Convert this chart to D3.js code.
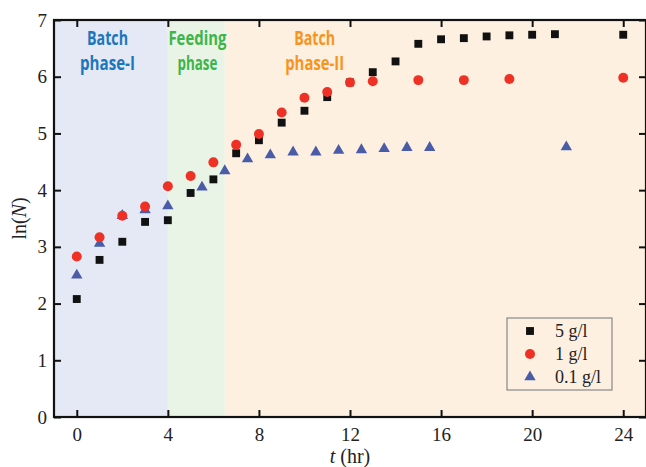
<!DOCTYPE html>
<html>
<head>
<meta charset="utf-8">
<script src="https://cdn.jsdelivr.net/npm/d3@7"></script>
<style>
  body { margin: 0; background: #fff; }
  svg { display: block; }
  .tick text { font-family: "Liberation Serif", "Times New Roman", serif; font-size: 19px; fill: #222; }
</style>
</head>
<body>
<div id="chart"></div>
<script>
// times (hr) and ln(N) for each glucose level
var tSquare = [0, 1, 2, 3, 4, 5, 6, 7, 8, 9, 10, 11, 12, 13, 14, 15, 16, 17, 18, 19, 20, 21, 24];
var lnSquare = [2.08, 2.77, 3.09, 3.44, 3.47, 3.95, 4.19, 4.65, 4.88, 5.19, 5.40, 5.64, 5.90, 6.08, 6.27, 6.58, 6.66, 6.68, 6.71, 6.73, 6.74, 6.75, 6.74];

var tCircle = [0, 1, 2, 3, 4, 5, 6, 7, 8, 9, 10, 11, 12, 13, 15, 17, 19, 24];
var lnCircle = [2.83, 3.17, 3.55, 3.71, 4.07, 4.25, 4.49, 4.80, 4.99, 5.37, 5.63, 5.73, 5.90, 5.92, 5.94, 5.94, 5.96, 5.98];

var tTri = [0, 1, 2, 3, 4, 5.5, 6.5, 7.5, 8.5, 9.5, 10.5, 11.5, 12.5, 13.5, 14.5, 15.5, 21.5];
var lnTri = [2.50, 3.06, 3.55, 3.65, 3.72, 4.05, 4.34, 4.55, 4.62, 4.67, 4.67, 4.70, 4.71, 4.73, 4.75, 4.75, 4.76];

var seriesNames = ["5 g/l", "1 g/l", "0.1 g/l"];

// phases: start, end, label lines
var phaseStart = [-1, 4, 6.5];
var phaseEnd = [4, 6.5, 25];
var phaseLabels = [["Batch", "phase-I"], ["Feeding", "phase"], ["Batch", "phase-II"]];
var phaseFill = ["#e4e9f5", "#e9f3e6", "#fdf0e1"];
var phaseText = ["#1b76bd", "#3db549", "#f7941d"];
var phaseLabelX = [1.35, 5.3, 10.45];

var xTicks = [0, 4, 8, 12, 16, 20, 24];
var yTicks = [0, 1, 2, 3, 4, 5, 6, 7];

var width = 646, height = 467;
var margin = {top: 20, right: 0, bottom: 50, left: 54};
var innerW = width - margin.left - margin.right;
var innerH = height - margin.top - margin.bottom;

var svg = d3.select("#chart").append("svg").attr("width", width).attr("height", height);
var g = svg.append("g").attr("transform", "translate(" + margin.left + "," + margin.top + ")");

var x = d3.scaleLinear().domain([-1, 25]).range([0, innerW]);
var y = d3.scaleLinear().domain([0, 7]).range([innerH, 0]);

// background phases
phaseStart.forEach(function(s, i){
  g.append("rect")
    .attr("x", x(s)).attr("y", 0)
    .attr("width", x(phaseEnd[i]) - x(s)).attr("height", innerH)
    .style("fill", phaseFill[i]);
});

// phase labels (bold, condensed look)
var labelWidths = [[41, 55], [58, 40], [41, 59]];
phaseLabels.forEach(function(lines, i){
  lines.forEach(function(txt, j){
    g.append("text")
      .attr("x", x(phaseLabelX[i])).attr("y", 25 + j * 25)
      .attr("text-anchor", "middle")
      .attr("textLength", labelWidths[i][j])
      .attr("lengthAdjust", "spacingAndGlyphs")
      .style("font-family", "'Liberation Sans Narrow', 'Open Sans', sans-serif")
      .style("font-weight", "bold").style("font-size", "19px")
      .style("fill", phaseText[i])
      .text(txt);
  });
});

// axes: ticks pointing inward
g.append("g").attr("transform", "translate(0," + innerH + ")")
  .call(d3.axisBottom(x).tickValues(xTicks).tickSize(-7).tickPadding(11).tickFormat(d3.format("d")));
g.append("g")
  .call(d3.axisLeft(y).tickValues(yTicks).tickSize(-7).tickPadding(7).tickFormat(d3.format("d")));
g.append("g")
  .call(d3.axisTop(x).tickValues(xTicks).tickSize(-7).tickFormat(""));
g.append("g").attr("transform", "translate(" + innerW + ",0)")
  .call(d3.axisRight(y).tickValues(yTicks).tickSize(-7).tickFormat(""));
g.selectAll(".domain").remove();
g.selectAll(".tick line").style("stroke", "#111").style("stroke-width", 2);

// frame
g.append("rect").attr("x", 0).attr("y", 0).attr("width", innerW).attr("height", innerH)
  .style("fill", "none").style("stroke", "#111").style("stroke-width", 2.2);

// markers
var sq = d3.symbol().type(d3.symbolSquare).size(62);
var ci = d3.symbol().type(d3.symbolCircle).size(78);
var tr = d3.symbol().type(d3.symbolTriangle).size(56);

g.selectAll(".tri").data(tTri).enter().append("path")
  .attr("class", "tri").attr("d", tr)
  .attr("transform", function(d, i){ return "translate(" + x(d) + "," + y(lnTri[i]) + ")"; })
  .style("fill", "#4a5ba8");
g.selectAll(".sq").data(tSquare).enter().append("path")
  .attr("class", "sq").attr("d", sq)
  .attr("transform", function(d, i){ return "translate(" + x(d) + "," + y(lnSquare[i]) + ")"; })
  .style("fill", "#111");
g.selectAll(".ci").data(tCircle).enter().append("path")
  .attr("class", "ci").attr("d", ci)
  .attr("transform", function(d, i){ return "translate(" + x(d) + "," + y(lnCircle[i]) + ")"; })
  .style("fill", "#ee3124");

// legend
var legend = g.append("g").attr("transform", "translate(" + (507 - margin.left) + "," + (318 - margin.top) + ")");
legend.append("rect").attr("width", 105).attr("height", 72)
  .style("fill", "none").style("stroke", "#888").style("stroke-width", 1.2);
var legSym = [sq, ci, tr];
var legCol = ["#111", "#ee3124", "#4a5ba8"];
seriesNames.forEach(function(name, i){
  legend.append("path").attr("d", legSym[i])
    .attr("transform", "translate(23," + (13 + i * 23) + ")")
    .style("fill", legCol[i]);
  legend.append("text").attr("x", 48).attr("y", 19 + i * 23)
    .style("font-family", "'Liberation Serif', serif").style("font-size", "18px")
    .style("fill", "#222").text(name);
});

// axis titles
svg.append("text").attr("x", margin.left + x(12)).attr("y", 463)
  .attr("text-anchor", "middle")
  .style("font-family", "'Liberation Serif', serif").style("font-size", "20px").style("fill", "#222")
  .html("<tspan font-style='italic'>t</tspan> (hr)");
svg.append("text").attr("transform", "translate(26," + (margin.top + y(3.5)) + ") rotate(-90)")
  .attr("text-anchor", "middle")
  .style("font-family", "'Liberation Serif', serif").style("font-size", "20px").style("fill", "#222")
  .html("ln(<tspan font-style='italic'>N</tspan>)");
</script>
</body>
</html>
